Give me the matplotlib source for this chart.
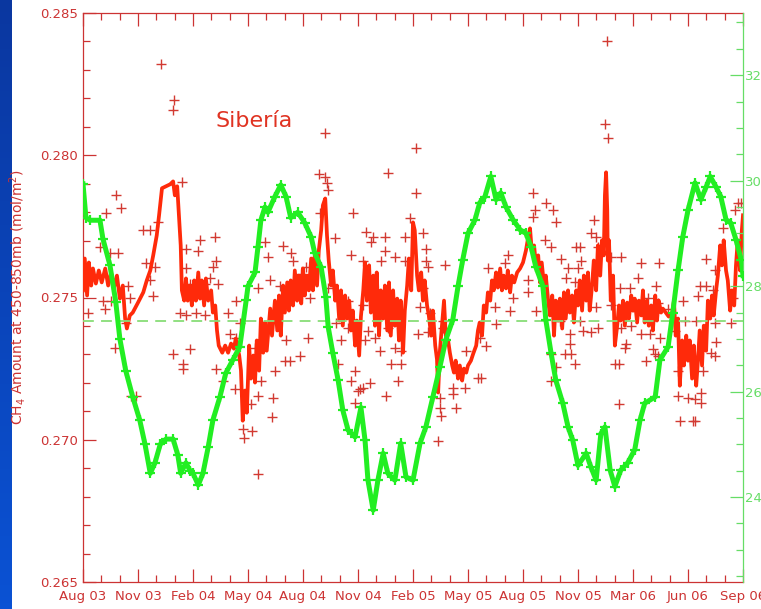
import numpy as np
import matplotlib
matplotlib.use('Agg')
import matplotlib.pyplot as plt
from matplotlib.ticker import FixedLocator

# x is days since the start of Aug 2003 (axis spans 1128 days)
X_END = 1128
TICK_LABELS = ['Aug 03', 'Nov 03', 'Feb 04', 'May 04', 'Aug 04', 'Nov 04', 'Feb 05',
               'May 05', 'Aug 05', 'Nov 05', 'Mar 06', 'Jun 06', 'Sep 06']

# red: CH4 amount (mol/m2), noisy daily series
RED_DAY = [0, 3, 7, 10, 14, 17, 22, 27, 32, 38,
           43, 48, 53, 58, 63, 68, 72, 75, 80, 85,
           94, 103, 109, 115, 120, 123, 126, 130, 135, 142,
           149, 154, 157, 161, 164, 167, 169, 173, 176, 179,
           183, 186, 190, 193, 197, 200, 203, 207, 210, 214,
           219, 222, 226, 229, 232, 238, 243, 248, 253, 258,
           261, 267, 270, 273, 277, 280, 284, 287, 291, 294,
           297, 301, 304, 308, 311, 314, 320, 323, 328, 332,
           335, 338, 342, 345, 349, 352, 355, 359, 362, 366,
           369, 373, 376, 379, 383, 386, 390, 393, 396, 400,
           403, 407, 410, 414, 417, 420, 424, 427, 431, 434,
           438, 441, 444, 448, 451, 455, 458, 461, 465, 468,
           472, 475, 479, 482, 485, 489, 492, 496, 499, 502,
           506, 509, 513, 516, 520, 523, 526, 530, 533, 537,
           540, 543, 547, 550, 554, 557, 561, 564, 567, 571,
           574, 578, 581, 584, 588, 591, 595, 598, 602, 605,
           607, 610, 614, 617, 620, 624, 627, 631, 634, 637,
           641, 644, 648, 651, 655, 658, 663, 667, 672, 675,
           678, 682, 685, 689, 692, 696, 699, 702, 706, 709,
           713, 716, 719, 723, 726, 730, 733, 737, 742, 747,
           752, 757, 760, 764, 767, 771, 774, 778, 781, 784,
           788, 791, 795, 798, 802, 805, 808, 812, 815, 819,
           822, 825, 829, 832, 836, 839, 843, 846, 849, 853,
           856, 860, 863, 866, 870, 873, 877, 880, 884, 887,
           890, 892, 894, 896, 897, 899, 902, 906, 909, 913,
           916, 919, 923, 926, 930, 933, 937, 940, 943, 947,
           950, 954, 957, 960, 964, 967, 971, 974, 978, 981,
           984, 988, 991, 996, 1001, 1007, 1010, 1013, 1017, 1020,
           1024, 1027, 1031, 1034, 1037, 1041, 1044, 1048, 1051, 1054,
           1058, 1061, 1065, 1068, 1072, 1075, 1078, 1082, 1085, 1089,
           1092, 1095, 1099, 1102, 1106, 1109, 1113, 1116, 1119, 1123,
           1126, 1128]
RED_VAL = [0.27525, 0.27637, 0.27507, 0.27623, 0.27542, 0.27602, 0.27549, 0.27595, 0.27553, 0.27602,
           0.27542, 0.27588, 0.27535, 0.27577, 0.27496, 0.27542, 0.27426, 0.27391, 0.27437, 0.27447,
           0.27482, 0.27518, 0.27560, 0.27595, 0.27648, 0.27683, 0.27718, 0.27789, 0.27884, 0.27891,
           0.27898, 0.27908, 0.27859, 0.27891, 0.27789, 0.27683, 0.27525, 0.27489, 0.27567, 0.27489,
           0.27542, 0.27472, 0.27560, 0.27489, 0.27588, 0.27496, 0.27560, 0.27472, 0.27567, 0.27489,
           0.27525, 0.27447, 0.27472, 0.27384, 0.27331, 0.27306, 0.27331, 0.27306, 0.27338, 0.27320,
           0.27356, 0.27296, 0.27243, 0.27067, 0.27173, 0.27095, 0.27331, 0.27215, 0.27296, 0.27201,
           0.27349, 0.27243, 0.27426, 0.27306, 0.27412, 0.27313, 0.27461, 0.27366, 0.27489, 0.27384,
           0.27507, 0.27366, 0.27542, 0.27447, 0.27553, 0.27454, 0.27560, 0.27472, 0.27595, 0.27489,
           0.27577, 0.27479, 0.27602, 0.27507, 0.27577, 0.27525, 0.27637, 0.27525, 0.27648, 0.27542,
           0.27665, 0.27736, 0.27824, 0.27848, 0.27718, 0.27630, 0.27542, 0.27595, 0.27489, 0.27542,
           0.27419, 0.27525, 0.27401, 0.27507, 0.27426, 0.27489, 0.27384, 0.27454, 0.27331, 0.27419,
           0.27296, 0.27433, 0.27525, 0.27623, 0.27489, 0.27613, 0.27447, 0.27577, 0.27401, 0.27588,
           0.27366, 0.27525, 0.27426, 0.27542, 0.27384, 0.27553, 0.27366, 0.27525, 0.27401, 0.27496,
           0.27349, 0.27489, 0.27306, 0.27454, 0.27542, 0.27637, 0.27525, 0.27764, 0.27736, 0.27577,
           0.27525, 0.27588, 0.27489, 0.27560, 0.27472, 0.27437, 0.27366, 0.27454, 0.27331, 0.27282,
           0.27166, 0.27313, 0.27412, 0.27489, 0.27366, 0.27349, 0.27306, 0.27261, 0.27236, 0.27278,
           0.27215, 0.27261, 0.27208, 0.27250, 0.27236, 0.27261, 0.27278, 0.27303, 0.27331, 0.27384,
           0.27412, 0.27366, 0.27472, 0.27447, 0.27518, 0.27489, 0.27560, 0.27525, 0.27588, 0.27535,
           0.27602, 0.27525, 0.27577, 0.27532, 0.27595, 0.27518, 0.27577, 0.27553, 0.27588, 0.27602,
           0.27623, 0.27665, 0.27701, 0.27743, 0.27665, 0.27683, 0.27613, 0.27648, 0.27553, 0.27623,
           0.27542, 0.27577, 0.27489, 0.27437, 0.27507, 0.27366, 0.27489, 0.27419, 0.27496, 0.27391,
           0.27518, 0.27426, 0.27525, 0.27447, 0.27507, 0.27412, 0.27525, 0.27472, 0.27560, 0.27454,
           0.27577, 0.27489, 0.27588, 0.27454, 0.27542, 0.27630, 0.27525, 0.27683, 0.27577, 0.27701,
           0.27648, 0.27859, 0.27940, 0.27806, 0.27630, 0.27701, 0.27489, 0.27577, 0.27331, 0.27401,
           0.27472, 0.27419, 0.27489, 0.27401, 0.27482, 0.27426, 0.27507, 0.27454, 0.27496, 0.27412,
           0.27489, 0.27437, 0.27525, 0.27412, 0.27489, 0.27401, 0.27472, 0.27384, 0.27507, 0.27419,
           0.27489, 0.27447, 0.27461, 0.27447, 0.27433, 0.27447, 0.27489, 0.27366, 0.27426, 0.27190,
           0.27349, 0.27261, 0.27366, 0.27278, 0.27349, 0.27215, 0.27331, 0.27190, 0.27278, 0.27384,
           0.27261, 0.27401, 0.27313, 0.27489, 0.27426, 0.27507, 0.27437, 0.27525, 0.27577, 0.27683,
           0.27613, 0.27701, 0.27595, 0.27560, 0.27454, 0.27525, 0.27472, 0.27613, 0.27701, 0.27595,
           0.27736, 0.27789]

# red crosses: individual retrievals
DOT_DAY = [133, 156, 154, 169, 56, 65, 39, 103, 115, 128,
           29, 60, 46, 108, 123, 115, 120, 77, 80, 176,
           200, 197, 226, 227, 222, 176, 183, 217, 231, 209,
           261, 248, 268, 166, 176, 193, 209, 9, 34, 38,
           48, 73, 55, 251, 261, 154, 183, 171, 171, 227,
           239, 260, 82, 91, 273, 275, 414, 403, 414, 417,
           419, 521, 405, 461, 431, 484, 496, 492, 516, 516,
           550, 559, 311, 342, 316, 355, 359, 373, 381, 458,
           479, 509, 533, 550, 320, 337, 299, 367, 388, 419,
           453, 479, 508, 533, 432, 453, 487, 499, 521, 294,
           347, 385, 441, 482, 508, 533, 543, 345, 354, 371,
           436, 526, 543, 304, 328, 465, 458, 490, 538, 473,
           479, 470, 287, 299, 325, 465, 518, 323, 289, 299,
           569, 569, 581, 586, 586, 590, 619, 581, 576, 593,
           573, 590, 615, 615, 610, 610, 612, 607, 637, 632,
           632, 653, 655, 675, 680, 689, 678, 692, 706, 704,
           726, 721, 735, 730, 760, 760, 774, 769, 772, 791,
           803, 808, 769, 790, 800, 817, 829, 825, 843, 841,
           800, 808, 800, 824, 832, 841, 834, 815, 832, 896,
           892, 897, 873, 868, 877, 880, 849, 851, 846, 902,
           919, 954, 984, 948, 918, 935, 979, 966, 983, 902,
           877, 945, 923, 960, 1000, 1025, 1054, 1065, 1065, 1051,
           1077, 1080, 1094, 1119, 1125, 1114, 1111, 855, 868, 849,
           880, 919, 937, 954, 969, 986, 1029, 1012, 1048, 1080,
           1107, 1082, 1073, 1080, 926, 928, 974, 978, 983, 962,
           909, 916, 1017, 1060, 1017, 1034, 1046, 1056, 1056, 916,
           1020, 1042, 1046]
DOT_VAL = [0.28320, 0.28193, 0.28158, 0.27905, 0.27859, 0.27813, 0.27796, 0.27739, 0.27739, 0.27764,
           0.27676, 0.27658, 0.27655, 0.27623, 0.27606, 0.27560, 0.27504, 0.27539, 0.27500, 0.27672,
           0.27701, 0.27665, 0.27711, 0.27630, 0.27606, 0.27602, 0.27549, 0.27567, 0.27549, 0.27549,
           0.27489, 0.27447, 0.27412, 0.27444, 0.27437, 0.27447, 0.27437, 0.27444, 0.27489, 0.27461,
           0.27489, 0.27412, 0.27324, 0.27373, 0.27359, 0.27303, 0.27320, 0.27268, 0.27250, 0.27250,
           0.27208, 0.27180, 0.27155, 0.27155, 0.27039, 0.27007, 0.28077, 0.27933, 0.27922, 0.27901,
           0.27877, 0.27936, 0.27796, 0.27796, 0.27708, 0.27729, 0.27711, 0.27694, 0.27711, 0.27665,
           0.27711, 0.27778, 0.27694, 0.27680, 0.27641, 0.27655, 0.27630, 0.27584, 0.27606, 0.27648,
           0.27630, 0.27630, 0.27641, 0.27630, 0.27560, 0.27542, 0.27535, 0.27535, 0.27500, 0.27535,
           0.27489, 0.27472, 0.27454, 0.27472, 0.27412, 0.27394, 0.27384, 0.27359, 0.27394, 0.27324,
           0.27349, 0.27359, 0.27349, 0.27349, 0.27313, 0.27324, 0.27313, 0.27278, 0.27278, 0.27296,
           0.27268, 0.27268, 0.27268, 0.27208, 0.27243, 0.27243, 0.27208, 0.27201, 0.27208, 0.27180,
           0.27183, 0.27173, 0.27127, 0.27155, 0.27148, 0.27130, 0.27155, 0.27081, 0.27032, 0.26880,
           0.28024, 0.27866, 0.27725, 0.27672, 0.27630, 0.27606, 0.27613, 0.27535, 0.27465, 0.27444,
           0.27373, 0.27377, 0.27419, 0.27394, 0.27148, 0.27113, 0.27085, 0.26997, 0.27113, 0.27183,
           0.27162, 0.27183, 0.27313, 0.27218, 0.27218, 0.27331, 0.27359, 0.27602, 0.27408, 0.27465,
           0.27648, 0.27620, 0.27500, 0.27454, 0.27518, 0.27560, 0.27454, 0.27866, 0.27806, 0.27831,
           0.27806, 0.27764, 0.27782, 0.27701, 0.27676, 0.27637, 0.27602, 0.27570, 0.27676, 0.27553,
           0.27303, 0.27254, 0.27208, 0.27303, 0.27338, 0.27268, 0.27303, 0.27419, 0.27373, 0.28401,
           0.28109, 0.28060, 0.27771, 0.27725, 0.27711, 0.27676, 0.27676, 0.27630, 0.27602, 0.27641,
           0.27641, 0.27620, 0.27623, 0.27567, 0.27535, 0.27532, 0.27542, 0.27500, 0.27479, 0.27472,
           0.27465, 0.27454, 0.27447, 0.27444, 0.27461, 0.27489, 0.27542, 0.27542, 0.27637, 0.27507,
           0.27525, 0.27595, 0.27746, 0.27831, 0.27831, 0.27806, 0.27500, 0.27384, 0.27377, 0.27419,
           0.27394, 0.27394, 0.27401, 0.27373, 0.27373, 0.27359, 0.27419, 0.27384, 0.27419, 0.27412,
           0.27412, 0.27342, 0.27306, 0.27296, 0.27324, 0.27338, 0.27320, 0.27303, 0.27296, 0.27278,
           0.27268, 0.27268, 0.27243, 0.27243, 0.27155, 0.27148, 0.27144, 0.27130, 0.27166, 0.27127,
           0.27067, 0.27067, 0.27067]

# green: second quantity on the right axis
GREEN_DAY = [0, 5, 12, 29, 34, 46, 56, 63, 73, 85,
             97, 106, 115, 123, 132, 142, 154, 162, 167, 176,
             183, 188, 197, 205, 214, 222, 234, 244, 256, 268,
             279, 282, 294, 299, 304, 311, 316, 328, 338, 347,
             355, 367, 379, 390, 396, 407, 415, 419, 427, 436,
             444, 453, 465, 475, 482, 487, 496, 504, 513, 521,
             533, 543, 552, 564, 576, 586, 598, 610, 620, 632,
             641, 649, 658, 670, 678, 687, 697, 706, 714, 723,
             735, 747, 757, 766, 774, 786, 791, 800, 808, 820,
             829, 837, 846, 860, 868, 877, 885, 892, 901, 909,
             919, 931, 943, 952, 960, 978, 986, 1000, 1008, 1017,
             1025, 1034, 1046, 1056, 1065, 1072, 1082, 1090, 1099, 1107,
             1116, 1125, 1128]
GREEN_VAL = [299.4, 293, 292.5, 292.5, 289, 284, 277, 270, 264, 259,
             254.6, 250, 244.5, 246.5, 250, 251, 251, 248, 244.5, 246.5,
             245, 244.5, 242.3, 244.5, 249.5, 254.6, 259, 263.5, 266, 268.5,
             277.4, 280, 282.6, 287.4, 292.5, 295, 294, 297, 299.2, 297,
             293, 294, 292, 289.3, 286.3, 283.6, 278, 272.3, 267.3, 262.2,
             256.5, 252.7, 251.4, 257, 250.8, 243.2, 237.5, 243.2, 248.3, 244.5,
             243.2, 250.2, 243.8, 243.2, 250.2, 253.3, 259, 264.7, 269.8, 273.6,
             280, 285, 290, 292.6, 295.8, 297, 300.8, 296.4, 297.7, 295,
             292.6, 290.7, 290, 287.4, 283.6, 280, 273.6, 267.3, 262.2, 257.8,
             253.3, 250.8, 246, 248.3, 245.7, 243.2, 252, 253.3, 245.1, 242,
             245.1, 246.5, 249, 254.6, 257.8, 259, 266, 268.5, 275, 283,
             289.3, 294.4, 299.6, 296.4, 298.8, 300.8, 298.8, 297, 292.6, 292,
             288.8, 285, 282]
GREEN_MEAN = 273.3

RED = '#cc3333'
LINE_RED = '#ff2a0a'
GREEN = '#22ee22'
AXIS_GREEN = '#66dd66'

fig = plt.figure(figsize=(7.61, 6.09), dpi=100)
fig.patch.set_facecolor('white')

# blue slide border on the left
band = fig.add_axes([0, 0, 12 / 761, 1])
top = np.array([10, 55, 160]) / 255
bot = np.array([10, 82, 212]) / 255
grad = np.linspace(0, 1, 100)[:, None, None] * (bot - top) + top
band.imshow(grad, aspect='auto', extent=(0, 1, 0, 1))
band.axis('off')

ax = fig.add_axes([83 / 761, 1 - 582 / 609, 660 / 761, 569 / 609])
ax2 = ax.twinx()

ax.plot(DOT_DAY, DOT_VAL, ls='none', marker='+', ms=7, mew=1.0,
        color='#d23a32', zorder=2)
ax.plot(RED_DAY, RED_VAL, color=LINE_RED, lw=2.7, zorder=3)

ax2.axhline(GREEN_MEAN, color='#88dd77', lw=1.3, ls=(0, (6, 4)), zorder=1)
ax2.plot(GREEN_DAY, GREEN_VAL, color=GREEN, lw=3.6, marker='+', ms=7.5, mew=1.6,
         zorder=4)

ax.set_xlim(0, X_END)
ax.set_ylim(0.265, 0.285)
ax2.set_ylim(223.9, 331.8)

ax.xaxis.set_major_locator(FixedLocator(np.linspace(0, X_END, 13)))
ax.xaxis.set_minor_locator(FixedLocator(np.linspace(0, X_END, 37)))
ax.set_xticklabels(TICK_LABELS)
ax.set_yticks([0.265, 0.270, 0.275, 0.280, 0.285])
ax.set_yticklabels(['0.265', '0.270', '0.275', '0.280', '0.285'])
ax.yaxis.set_minor_locator(FixedLocator(np.arange(0.265, 0.2851, 0.001)))
ax2.set_yticks([240, 260, 280, 300, 320])
ax2.yaxis.set_minor_locator(FixedLocator(np.arange(225, 331, 5)))

ax.tick_params(which='both', direction='in', top=True, right=False,
               color=RED, labelcolor=RED, width=0.9, labelsize=9.5)
ax.tick_params(which='major', length=9.5)
ax.tick_params(which='minor', length=5)
ax.tick_params(axis='y', pad=3.5)
ax.tick_params(axis='x', pad=6)
ax2.tick_params(which='both', direction='in', color=AXIS_GREEN,
                labelcolor=AXIS_GREEN, width=0.9, labelsize=9.5, pad=1.5)
ax2.tick_params(which='major', length=9.5)
ax2.tick_params(which='minor', length=5)

for side in ['left', 'top', 'bottom']:
    ax.spines[side].set_color(RED)
    ax.spines[side].set_linewidth(0.9)
    ax2.spines[side].set_visible(False)
ax.spines['right'].set_visible(False)
ax2.spines['right'].set_color(AXIS_GREEN)
ax2.spines['right'].set_linewidth(0.9)

ax.set_ylabel('CH$_4$ Amount at 450-850mb (mol/m$^2$)', color=RED, fontsize=10)
ax.yaxis.set_label_coords(-0.083, 0.5)

ax.text(0.26, 0.81, 'Sibería', transform=ax.transAxes, color='#e03322',
        fontsize=16, ha='center', va='center')

fig.savefig('out.png', dpi=100, facecolor='white')
